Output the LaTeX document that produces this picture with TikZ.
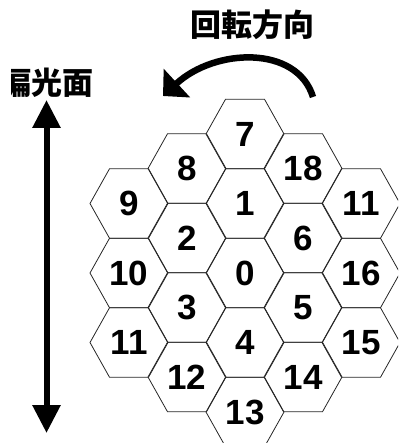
\documentclass[tikz,border=0pt]{standalone}
\usepackage{fontspec}
\setmainfont{Liberation Sans}
\newfontfamily\cjkfont{Noto Sans CJK JP}
\usetikzlibrary{arrows.meta}
\begin{document}
\begin{tikzpicture}[x=1pt,y=-1pt,
  hexline/.style={line width=0.8pt,draw=black!85},
  num/.style={font=\fontsize{35}{35}\selectfont\bfseries,inner sep=0pt},
  cjklabel/.style={font=\cjkfont\bfseries\fontsize{31}{31}\selectfont,inner sep=0pt},
  bigarrow/.style={line width=6pt,{Triangle[length=28pt,width=27pt]}-{Triangle[length=28pt,width=27pt]}},
  rotarrow/.style={line width=6.5pt,-{Triangle[length=19pt,width=38pt]}}]
\useasboundingbox (0,0) rectangle (398,443);
\clip (0,0) rectangle (398,443);
\foreach \n/\x/\y/\t in {
  h7/245/134/7, h1/245/203.5/1, h0/245/273/0, h4/245/342.5/4, h13/245/412/13,
  h8/187/168.5/8, h2/187/238/2, h3/187/307.5/3, h12/187/377/12,
  h18/303/168.5/18, h6/303/238/6, h5/303/307.5/5, h14/303/377/14,
  h9/129/203.5/9, h10/129/273/10, h11a/129/342.5/11,
  h11b/361/203.5/11, h16/361/273/16, h15/361/342.5/15} {
  \draw[hexline] (\x-39,\y) -- (\x-19.5,\y-34.75) -- (\x+19.5,\y-34.75)
    -- (\x+39,\y) -- (\x+19.5,\y+34.75) -- (\x-19.5,\y+34.75) -- cycle;
  \node[num] (\n) at (\x,\y) {\t};
}
\node[cjklabel] (title) at (252,25) {回転方向};
\begin{scope}
  \clip (11,55) rectangle (110,105);
  \node[cjklabel,anchor=east] (pol) at (94,83) {偏光面};
\end{scope}
\coordinate (ptop) at (46.5,100);
\coordinate (pbot) at (46.5,433);
\draw[bigarrow] (ptop) -- (pbot);
\coordinate (rstart) at (313,97);
\coordinate (rend) at (163,96);
\draw[rotarrow] (rstart) .. controls (297,45) and (215,48) .. (rend);
\end{tikzpicture}
\end{document}
